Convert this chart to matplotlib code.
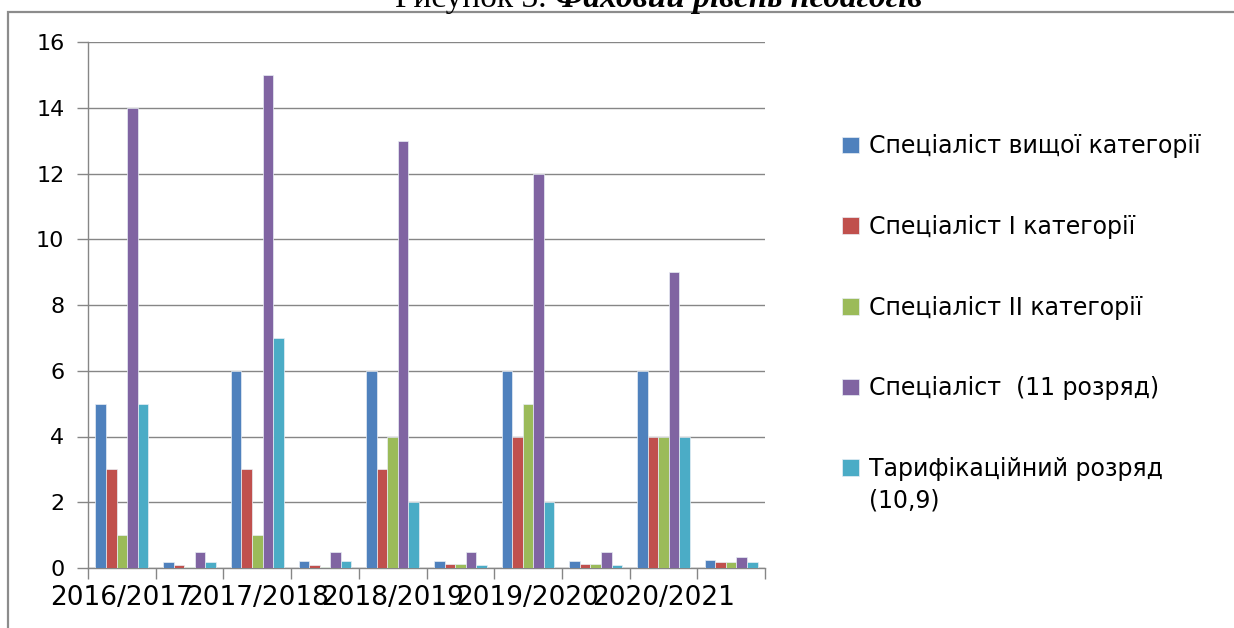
import matplotlib
matplotlib.use("Agg")
import matplotlib.pyplot as plt
import numpy as np
from matplotlib.patches import Rectangle

# categories: every second one has no label in the original
categories = ["2016/2017", "", "2017/2018", "", "2018/2019", "", "2019/2020", "", "2020/2021", ""]

vyshcha = [5, 0.17, 6, 0.2, 6, 0.2, 6, 0.2, 6, 0.24]
persha = [3, 0.09, 3, 0.09, 3, 0.13, 4, 0.13, 4, 0.17]
druha = [1, 0.04, 1, 0.04, 4, 0.13, 5, 0.13, 4, 0.17]
rozryad11 = [14, 0.48, 15, 0.48, 13, 0.48, 12, 0.48, 9, 0.33]
taryf = [5, 0.17, 7, 0.2, 2, 0.08, 2, 0.08, 4, 0.17]

series_names = ["Спеціаліст вищої категорії", "Спеціаліст І категорії",
                "Спеціаліст ІІ категорії", "Спеціаліст  (11 розряд)",
                "Тарифікаційний розряд"]
last_line = "(10,9)"
colors = ["#4F81BD", "#C0504D", "#9BBB59", "#8064A2", "#4BACC6"]

W, H = 1234, 628
fig = plt.figure(figsize=(W / 100, H / 100), dpi=100)
ax = fig.add_axes([88 / W, (H - 568) / H, (765 - 88) / W, (568 - 42) / H])

x = np.arange(len(categories))
bw = 0.156
series = [vyshcha, persha, druha, rozryad11, taryf]
for i, (vals, name, c) in enumerate(zip(series, series_names, colors)):
    ax.bar(x + (i - 2) * bw, vals, width=bw, color=c, label=name,
           edgecolor="#e8eef5", linewidth=0.5, zorder=3)

ax.set_xlim(-0.5, len(categories) - 0.5)
ax.set_ylim(0, 16)
ax.set_yticks(np.arange(0, 17, 2))
ax.grid(axis="y", color="#868686", linewidth=1, zorder=0)

ax.set_xticks(np.arange(-0.5, len(categories), 1))
ax.set_xticklabels([])
ax.set_xticks(x, minor=True)
ax.set_xticklabels(categories, minor=True, fontsize=19)
ax.tick_params(axis="x", which="minor", length=0, pad=12)
ax.tick_params(axis="x", which="major", length=8, color="#868686", width=1)
ax.tick_params(axis="y", length=8, color="#868686", width=1, labelsize=16, pad=9)

for s in ["top", "right"]:
    ax.spines[s].set_visible(False)
for s in ["left", "bottom"]:
    ax.spines[s].set_color("#868686")
    ax.spines[s].set_linewidth(1)

leg = fig.legend(loc="upper left", bbox_to_anchor=(821 / W, (H - 113) / H),
                 frameon=False, fontsize=17, handlelength=0.72, handleheight=0.72,
                 handletextpad=0.4, labelspacing=2.4)

# outer frame of the original picture
fig.patches.append(Rectangle((8 / W, -0.1), 1.2, (H - 12) / H + 0.1,
                             transform=fig.transFigure, fill=False,
                             edgecolor="#8c8c8c", linewidth=1.6))

# caption cut at the top edge
cap1 = fig.text(395 / W, (H - 7) / H, "Рисунок 3. ", family="Liberation Serif",
                fontsize=24, va="baseline", ha="left")
fig.canvas.draw()
r = fig.canvas.get_renderer()
bb = cap1.get_window_extent(r)
fig.text(bb.x1 / W, (H - 7) / H, "Фаховий рівень педагогів", family="Liberation Serif",
         fontsize=24, va="baseline", ha="left", fontweight="bold", fontstyle="italic")

# second line of the last legend entry, under its first line
t = leg.get_texts()[-1]
tb = t.get_window_extent(r)
fig.text(tb.x0 / W, (tb.y0 - 8) / H, last_line, fontsize=17, va="top", ha="left")

fig.savefig("out.png", dpi=100)
